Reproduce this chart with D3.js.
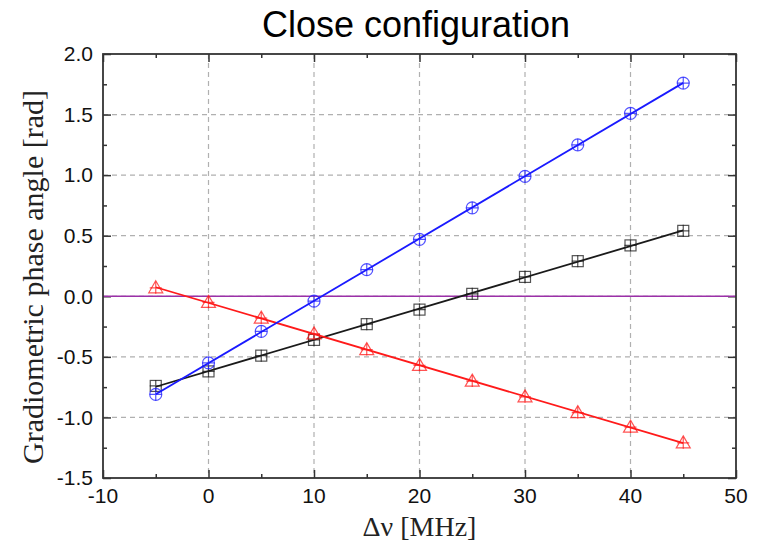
<!DOCTYPE html>
<html>
<head>
<meta charset="utf-8">
<script src="https://cdn.jsdelivr.net/npm/d3@7"></script>
<style>
  body { margin: 0; background: #fff; }
  svg { display: block; }
</style>
</head>
<body>
<svg id="chart"></svg>
<script>
// data
const freq = [-5, 0, 5, 10, 15, 20, 25, 30, 35, 40, 45];
const blueSeries = [-0.81, -0.55, -0.29, -0.04, 0.22, 0.47, 0.73, 0.99, 1.25, 1.51, 1.76];
const blackSeries = [-0.74, -0.62, -0.49, -0.36, -0.23, -0.11, 0.02, 0.16, 0.29, 0.42, 0.54];
const redSeries = [0.07, -0.05, -0.18, -0.31, -0.44, -0.57, -0.70, -0.83, -0.96, -1.08, -1.21];
const xTicks = [-10, 0, 10, 20, 30, 40, 50];
const yTicks = [-1.5, -1.0, -0.5, 0.0, 0.5, 1.0, 1.5, 2.0];

const width = 765, height = 545;
const margin = {top: 54, right: 29, bottom: 67, left: 103};

const svg = d3.select("#chart")
    .attr("width", width)
    .attr("height", height);

const x = d3.scaleLinear().domain([-10, 50]).range([margin.left, width - margin.right]);
const y = d3.scaleLinear().domain([-1.5, 2.0]).range([height - margin.bottom, margin.top]);

const x0 = x.range()[0], x1 = x.range()[1];
const y0 = y.range()[0], y1 = y.range()[1];

// grid
const grid = svg.append("g")
    .attr("stroke", "#b0b0b0")
    .attr("stroke-width", 1.2)
    .attr("stroke-dasharray", "5,4");
grid.selectAll(".gx")
    .data(xTicks.slice(1, -1))
    .enter().append("line")
    .attr("x1", d => x(d)).attr("x2", d => x(d))
    .attr("y1", y1).attr("y2", y0);
grid.selectAll(".gy")
    .data(yTicks.slice(1, -1))
    .enter().append("line")
    .attr("x1", x0).attr("x2", x1)
    .attr("y1", d => y(d)).attr("y2", d => y(d));

// axes with inward ticks
const minorX = d3.range(-5, 50, 10);
const minorY = d3.range(-1.25, 2.0, 0.5);

function addAxis(axisFn, scale, tickVals, len, transform) {
    const g = svg.append("g")
        .attr("transform", transform)
        .call(axisFn(scale).tickValues(tickVals).tickSize(len).tickFormat(""));
    g.select(".domain").remove();
    g.selectAll(".tick line").attr("stroke", "#333").attr("stroke-width", 1.5);
    return g;
}

// bottom
addAxis(d3.axisTop, x, xTicks, 8, `translate(0,${y0})`);
addAxis(d3.axisTop, x, minorX, 4, `translate(0,${y0})`);
// top
addAxis(d3.axisBottom, x, xTicks, 8, `translate(0,${y1})`);
addAxis(d3.axisBottom, x, minorX, 4, `translate(0,${y1})`);
// left
addAxis(d3.axisRight, y, yTicks, 8, `translate(${x0},0)`);
addAxis(d3.axisRight, y, minorY, 4, `translate(${x0},0)`);
// right
addAxis(d3.axisLeft, y, yTicks, 8, `translate(${x1},0)`);
addAxis(d3.axisLeft, y, minorY, 4, `translate(${x1},0)`);

// tick labels
svg.append("g").selectAll("text")
    .data(xTicks)
    .enter().append("text")
    .attr("x", d => x(d))
    .attr("y", y0 + 18)
    .attr("dy", "0.35em")
    .attr("text-anchor", "middle")
    .attr("font-family", "Liberation Sans, Arial, sans-serif")
    .attr("font-size", 21)
    .attr("fill", "#111")
    .text(d => d);

svg.append("g").selectAll("text")
    .data(yTicks)
    .enter().append("text")
    .attr("x", x0 - 10)
    .attr("y", d => y(d))
    .attr("dy", "0.35em")
    .attr("text-anchor", "end")
    .attr("font-family", "Liberation Sans, Arial, sans-serif")
    .attr("font-size", 21)
    .attr("fill", "#111")
    .text(d => d.toFixed(1));

// zero line
svg.append("line")
    .attr("x1", x0).attr("x2", x1)
    .attr("y1", y(0)).attr("y2", y(0))
    .attr("stroke", "#9b30a8")
    .attr("stroke-width", 1.5);

// linear fits + markers
function fit(xs, ys) {
    const mx = d3.mean(xs), my = d3.mean(ys);
    const sxy = d3.sum(xs, (v, i) => (v - mx) * (ys[i] - my));
    const sxx = d3.sum(xs, v => (v - mx) * (v - mx));
    const b = sxy / sxx;
    return v => my + b * (v - mx);
}

const series = [
    {values: blackSeries, color: "#1a1a1a", marker: "square"},
    {values: redSeries, color: "#ff1a1a", marker: "triangle"},
    {values: blueSeries, color: "#1a1aff", marker: "circle"}
];

const r = 6;
series.forEach(s => {
    const f = fit(freq, s.values);
    const xe = d3.extent(freq);
    svg.append("line")
        .attr("x1", x(xe[0])).attr("y1", y(f(xe[0])))
        .attr("x2", x(xe[1])).attr("y2", y(f(xe[1])))
        .attr("stroke", s.color)
        .attr("stroke-width", 1.8);

    const pts = svg.append("g")
        .attr("fill", "none")
        .attr("stroke", s.color)
        .attr("stroke-opacity", 0.75)
        .attr("stroke-width", 1.2)
        .selectAll("g")
        .data(freq.map((v, i) => [v, s.values[i]]))
        .enter().append("g")
        .attr("transform", d => `translate(${x(d[0])},${y(d[1])})`);

    if (s.marker === "circle") {
        pts.append("circle").attr("r", r);
    } else if (s.marker === "square") {
        pts.append("rect").attr("x", -r + 0.5).attr("y", -r + 0.5).attr("width", 2 * r - 1).attr("height", 2 * r - 1);
    } else {
        pts.append("path").attr("d", `M0,${-r - 1}L${r + 1},${r - 1}L${-r - 1},${r - 1}Z`);
    }
    pts.append("path").attr("d", `M${-r},0H${r}M0,${-r}V${r}`);
});

// frame
svg.append("rect")
    .attr("x", x0).attr("y", y1)
    .attr("width", x1 - x0).attr("height", y0 - y1)
    .attr("fill", "none")
    .attr("stroke", "#333")
    .attr("stroke-width", 1.8);

// titles
svg.append("text")
    .attr("x", 416)
    .attr("y", 37)
    .attr("text-anchor", "middle")
    .attr("font-family", "Liberation Sans, Arial, sans-serif")
    .attr("font-size", 36)
    .attr("fill", "#000")
    .text("Close configuration");

svg.append("text")
    .attr("x", (x0 + x1) / 2)
    .attr("y", 536)
    .attr("text-anchor", "middle")
    .attr("font-family", "Liberation Serif, Times New Roman, serif")
    .attr("font-size", 28)
    .attr("fill", "#222")
    .text("Δν [MHz]");

svg.append("text")
    .attr("transform", "translate(43,277) rotate(-90)")
    .attr("text-anchor", "middle")
    .attr("font-family", "Liberation Serif, Times New Roman, serif")
    .attr("font-size", 30)
    .attr("fill", "#222")
    .text("Gradiometric phase angle [rad]");
</script>
</body>
</html>
